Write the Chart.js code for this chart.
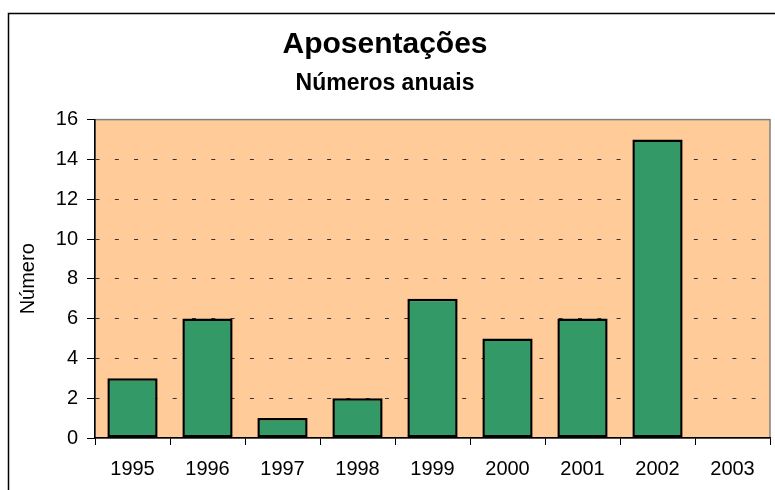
<!DOCTYPE html>
<html>
<head>
<meta charset="utf-8">
<script src="https://cdn.jsdelivr.net/npm/chart.js@4"></script>
<style>
  body { margin: 0; background: #fff; }
</style>
</head>
<body>
<canvas id="myChart" width="775" height="490"></canvas>
<script>
const years = ['1995', '1996', '1997', '1998', '1999', '2000', '2001', '2002', '2003'];
const aposentacoes = [3, 6, 1, 2, 7, 5, 6, 15, 0];
const yTicks = [0, 2, 4, 6, 8, 10, 12, 14, 16];

const FONT = "'Liberation Sans', Arial, sans-serif";
Chart.defaults.color = '#000';
Chart.defaults.font.family = FONT;

// peach plot background, gray plot frame, outer chart border
const frame = {
  id: 'frame',
  beforeDraw(chart) {
    const { ctx, chartArea: a } = chart;
    ctx.save();
    ctx.fillStyle = '#FFCC99';
    ctx.fillRect(a.left, a.top, a.right - a.left, a.bottom - a.top);
    ctx.strokeStyle = '#808080';
    ctx.lineWidth = 1.5;
    ctx.strokeRect(a.left, a.top, a.right - a.left, a.bottom - a.top);
    ctx.restore();
  },
  afterDraw(chart) {
    const ctx = chart.ctx;
    ctx.save();
    ctx.strokeStyle = '#000';
    ctx.lineWidth = 1.5;
    ctx.strokeRect(8.5, 13.5, 900, 600);
    ctx.restore();
  }
};

const ctx = document.getElementById('myChart').getContext('2d');

const myChart = new Chart(ctx, {
  type: 'bar',
  data: {
    labels: years,
    datasets: [{
      label: 'Número',
      data: aposentacoes,
      backgroundColor: '#339966',
      borderColor: '#000',
      borderWidth: 2.5,
      borderSkipped: false,
      categoryPercentage: 1,
      barPercentage: 0.67,
    }],
  },
  options: {
    responsive: false,
    animation: false,
    layout: { padding: { left: 0, right: 5, top: 0, bottom: 0 } },
    plugins: {
      legend: { display: false },
      tooltip: { enabled: false },
      title: {
        display: true,
        text: 'Aposentações',
        font: { size: 30, weight: 'bold' },
        padding: { top: 27, bottom: 7 },
      },
      subtitle: {
        display: true,
        text: 'Números anuais',
        color: '#000',
        font: { size: 23, weight: 'bold' },
        padding: { top: 0, bottom: 22 },
      },
    },
    scales: {
      x: {
        offset: true,
        grid: {
          offset: true,
          drawOnChartArea: false,
          tickLength: 7,
          tickColor: '#000',
        },
        border: { color: '#000', width: 1.5 },
        ticks: { font: { size: 20 }, padding: 12 },
        afterFit(scale) { scale.height = 52; },
      },
      y: {
        min: 0,
        max: 16,
        afterBuildTicks(scale) { scale.ticks = yTicks.map(v => ({ value: v })); },
        grid: {
          color: c => (c.tick.value === 0 || c.tick.value === 16) ? 'rgba(0,0,0,0)' : '#333',
          tickLength: 8,
          tickColor: '#000',
          tickBorderDash: [],
        },
        border: { color: '#000', width: 1.5, dash: [4, 15.3] },
        ticks: { font: { size: 20 }, padding: 9 },
        title: {
          display: true,
          text: 'Número',
          font: { size: 20 },
          padding: { top: 16, bottom: 0 },
        },
        afterFit(scale) { scale.width = 95; },
      },
    },
  },
  plugins: [frame],
});
</script>
</body>
</html>
